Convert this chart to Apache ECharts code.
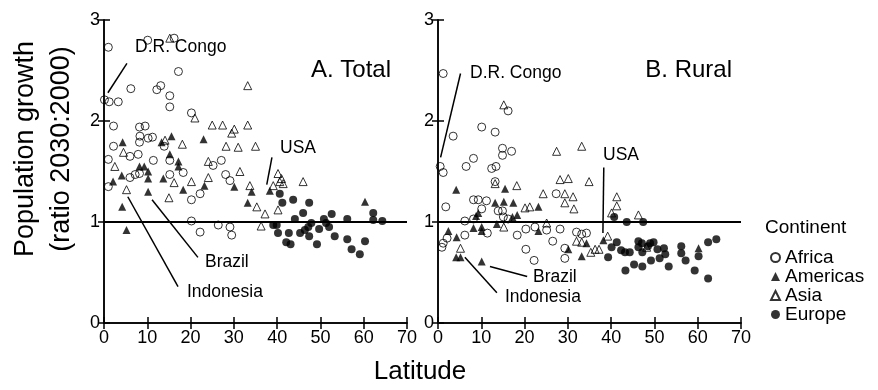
<!DOCTYPE html>
<html>
<head>
<meta charset="utf-8">
<script src="https://cdn.jsdelivr.net/npm/echarts@6/dist/echarts.min.js"></script>
<style>
  html, body { margin: 0; padding: 0; background: #fff; }
  #chart { width: 878px; height: 390px; }
</style>
</head>
<body>
<div id="chart"></div>
<script>
// [latitude, ratio 2030:2000]
const totalAfrica = [[1.0,2.73],[10.1,2.80],[16.2,2.82],[17.2,2.49],[0.1,2.21],[1.2,2.19],[3.3,2.19],[6.2,2.32],[12.2,2.31],[13.1,2.35],[15.2,2.25],[15.2,2.14],[20.2,2.08],[2.2,1.95],[8.2,1.94],[9.5,1.95],[8.3,1.85],[10.2,1.83],[11.2,1.84],[8.2,1.79],[13.9,1.75],[2.2,1.75],[6.0,1.65],[7.9,1.67],[11.4,1.61],[15.2,1.61],[27.1,1.61],[1.0,1.62],[25.2,1.56],[1.0,1.35],[6.0,1.44],[7.2,1.47],[8.2,1.48],[15.2,1.47],[18.3,1.49],[20.2,1.22],[22.2,1.28],[20.2,1.01],[22.2,0.90],[26.4,0.97],[29.1,0.95],[29.5,0.87],[28.1,1.47],[29.1,1.41]]
const totalAmericas = [[15.6,1.85],[4.3,1.79],[13.3,1.79],[23.0,1.82],[15.2,1.67],[17.2,1.60],[8.2,1.55],[9.3,1.55],[17.2,1.55],[2.1,1.40],[4.1,1.46],[10.2,1.50],[10.2,1.43],[10.2,1.30],[4.2,1.15],[5.2,0.92],[13.7,1.43],[18.3,1.32],[23.2,1.36],[30.1,1.35],[34.1,1.30],[33.2,1.19],[38.3,1.31],[60.3,1.20]]
const totalAsia = [[15.2,2.82],[21.0,2.03],[33.2,2.35],[25.0,1.96],[27.4,1.96],[30.1,1.92],[29.5,1.88],[33.2,1.96],[14.1,1.81],[18.1,1.77],[28.2,1.75],[31.0,1.74],[35.0,1.75],[4.5,1.69],[24.1,1.60],[2.5,1.55],[5.2,1.32],[16.2,1.39],[15.0,1.24],[20.2,1.40],[24.1,1.44],[31.4,1.50],[33.7,1.36],[40.2,1.48],[41.0,1.43],[41.4,1.38],[40.6,1.40],[46.0,1.40],[39.1,1.36],[35.3,1.15],[37.2,1.08],[40.2,1.12],[36.3,0.96]]
const totalEurope = [[40.6,1.28],[41.2,1.19],[43.7,1.22],[47.4,1.19],[46.0,1.09],[44.1,1.03],[39.1,0.97],[39.9,0.97],[52.6,1.08],[50.8,1.03],[47.9,0.99],[47.2,0.95],[46.4,0.92],[45.3,0.89],[51.3,0.99],[52.0,0.95],[49.7,0.93],[56.2,1.03],[40.2,0.89],[42.7,0.89],[47.4,0.86],[42.1,0.80],[43.1,0.78],[53.3,0.86],[56.2,0.83],[49.2,0.78],[60.3,0.81],[57.2,0.73],[59.1,0.68],[62.2,1.09],[62.2,1.02],[64.3,1.01]]

const ruralAfrica = [[1.2,2.47],[16.2,2.10],[10.1,1.94],[13.2,1.89],[3.5,1.85],[14.9,1.73],[14.9,1.66],[17.0,1.70],[8.2,1.63],[0.5,1.55],[6.5,1.55],[12.4,1.53],[13.4,1.55],[1.2,1.49],[13.2,1.40],[8.2,1.22],[9.3,1.22],[11.2,1.21],[1.8,1.15],[10.1,1.13],[13.9,1.11],[14.9,1.11],[27.3,1.28],[15.1,1.05],[16.2,1.03],[6.2,1.01],[8.2,1.03],[11.4,0.89],[2.1,0.84],[1.2,0.79],[0.9,0.75],[6.2,0.87],[18.3,0.87],[20.3,0.93],[22.4,0.95],[25.1,0.92],[28.2,0.93],[26.5,0.81],[20.3,0.73],[22.2,0.62],[29.3,0.74],[29.3,0.64],[32.0,0.90],[33.2,0.88],[34.3,0.89]]
const ruralAmericas = [[4.2,1.32],[15.5,1.33],[13.2,1.19],[15.2,1.20],[17.4,1.19],[9.3,1.09],[8.8,1.06],[23.2,1.15],[17.2,1.05],[18.3,1.07],[13.6,0.98],[8.2,0.94],[10.1,0.95],[10.1,0.91],[2.4,0.91],[4.3,0.85],[4.2,0.65],[5.2,0.65],[10.1,0.61],[23.2,0.91],[30.1,0.73],[34.3,0.79],[33.2,0.66],[38.2,0.82],[60.2,0.74]]
const ruralAsia = [[15.2,2.16],[27.4,1.70],[33.2,1.75],[13.2,1.38],[18.2,1.36],[20.1,1.14],[21.2,1.15],[24.3,1.28],[28.2,1.42],[30.1,1.43],[29.3,1.28],[31.2,1.25],[29.3,1.19],[31.4,1.13],[34.9,1.40],[15.2,0.95],[5.2,0.74],[25.1,0.99],[32.0,0.81],[33.2,0.80],[41.3,1.25],[41.3,1.16],[40.1,1.09],[46.3,1.07],[35.3,0.70],[36.3,0.73],[37.2,0.73],[39.2,0.86],[48.2,0.75]]
const ruralEurope = [[40.7,1.05],[43.6,1.00],[47.4,1.00],[40.1,0.75],[41.3,0.80],[42.3,0.72],[43.2,0.70],[44.3,0.70],[39.3,0.65],[46.3,0.81],[46.3,0.75],[47.1,0.79],[48.5,0.76],[49.8,0.80],[49.0,0.79],[47.2,0.70],[50.7,0.73],[52.2,0.74],[52.5,0.68],[51.2,0.64],[45.3,0.58],[47.2,0.56],[49.2,0.62],[43.3,0.52],[53.3,0.56],[56.2,0.76],[56.2,0.69],[57.2,0.62],[59.3,0.52],[60.2,0.66],[62.4,0.80],[64.3,0.83],[62.4,0.44]]

const continents = ['Africa', 'Americas', 'Asia', 'Europe']
const panelTitles = ['A. Total', 'B. Rural']

// leader lines for the country labels, [from, to] in data units
const totalLeaders = [[[0.9,2.28],[5.3,2.57]], [[38.8,1.64],[37.6,1.37]], [[11.1,1.22],[21.7,0.65]], [[5.5,1.25],[17.1,0.36]]]
const ruralLeaders = [[[5.2,2.47],[0.6,1.64]], [[38.3,1.54],[38.1,0.89]], [[12.0,0.56],[20.6,0.46]], [[6.2,0.65],[13.6,0.30]]]

const FONT = '"Liberation Sans", Arial, sans-serif'
const chart = echarts.init(document.getElementById('chart'))

const gridLeft = [104, 438]
const marker = {
  Africa: { symbol: 'circle', itemStyle: { color: 'rgba(255,255,255,0)', borderColor: '#000', borderWidth: 1 } },
  Americas: { symbol: 'triangle', itemStyle: { color: '#000', borderColor: '#000', borderWidth: 0 } },
  Asia: { symbol: 'triangle', itemStyle: { color: 'rgba(255,255,255,0)', borderColor: '#000', borderWidth: 1 } },
  Europe: { symbol: 'circle', itemStyle: { color: '#000', borderColor: '#000', borderWidth: 0 } },
}

const grids = gridLeft.map(l => ({ left: l, top: 20, width: 303, height: 303 }))
const xAxes = []
const yAxes = []
gridLeft.forEach((l, i) => {
  const line = { lineStyle: { color: '#000', width: 1.5 } }
  const tick = { inside: true, length: 6, lineStyle: { color: '#000', width: 1.5 } }
  xAxes.push({
    gridIndex: i, type: 'value', min: 0, max: 70, interval: 10, position: 'bottom',
    axisLine: line, axisTick: tick, splitLine: { show: false },
    axisLabel: { color: '#000', fontSize: 18, fontFamily: FONT, margin: 6 },
  })
  xAxes.push({
    gridIndex: i, type: 'value', min: 0, max: 70, interval: 10, position: 'top',
    axisLine: line, axisTick: tick, splitLine: { show: false }, axisLabel: { show: false },
  })
  yAxes.push({
    gridIndex: i, type: 'value', min: 0, max: 3, interval: 1, position: 'left',
    axisLine: line, axisTick: tick, splitLine: { show: false },
    axisLabel: { color: '#000', fontSize: 18, fontFamily: FONT, margin: 4 },
  })
  yAxes.push({
    gridIndex: i, type: 'value', min: 0, max: 3, interval: 1, position: 'right',
    axisLine: line, axisTick: tick, splitLine: { show: false }, axisLabel: { show: false },
  })
})

const panelData = [
  [totalAfrica, totalAmericas, totalAsia, totalEurope],
  [ruralAfrica, ruralAmericas, ruralAsia, ruralEurope],
]
const leaders = [totalLeaders, ruralLeaders]

const series = []
panelData.forEach((sets, i) => {
  sets.forEach((d, k) => {
    const name = continents[k]
    const s = {
      name,
      type: 'scatter',
      xAxisIndex: i * 2,
      yAxisIndex: i * 2,
      data: d,
      symbol: marker[name].symbol,
      symbolSize: 8,
      itemStyle: marker[name].itemStyle,
      silent: true,
    }
    if (k === 0) {
      s.markLine = {
        silent: true, symbol: 'none', animation: false,
        label: { show: false },
        lineStyle: { color: '#000', width: 1.5, type: 'solid' },
        data: leaders[i].map(p => [{ coord: p[0] }, { coord: p[1] }]),
      }
    }
    if (k === 3) {
      s.markLine = {
        silent: true, symbol: 'none', animation: false,
        label: { show: false },
        lineStyle: { color: '#000', width: 2, type: 'solid' },
        data: [{ yAxis: 1 }],
      }
    }
    series.push(s)
  })
})

const txt = (x, y, text, size, extra) => ({
  type: 'text', x, y,
  style: Object.assign({ text, fill: '#000', font: size + 'px ' + FONT, textVerticalAlign: 'middle' }, extra || {}),
})

chart.setOption({
  animation: false,
  grid: grids,
  xAxis: xAxes,
  yAxis: yAxes,
  series,
  legend: {
    data: continents,
    orient: 'vertical',
    left: 765, top: 243,
    itemWidth: 9, itemHeight: 9, itemGap: 0,
    selectedMode: false,
    textStyle: { color: '#000', fontSize: 19, fontFamily: FONT, lineHeight: 18.7 },
  },
  graphic: [
    txt(391, 70, panelTitles[0], 24, { textAlign: 'right' }),
    txt(732, 70, panelTitles[1], 24, { textAlign: 'right' }),
    txt(135, 47, 'D.R. Congo', 17.5),
    txt(280, 148, 'USA', 17.5),
    txt(205, 262, 'Brazil', 17.5),
    txt(187, 292, 'Indonesia', 17.5),
    txt(470, 73, 'D.R. Congo', 17.5),
    txt(603, 155, 'USA', 17.5),
    txt(533, 277, 'Brazil', 17.5),
    txt(505, 297, 'Indonesia', 17.5),
    txt(765, 228, 'Continent', 19),
    txt(420, 372, 'Latitude', 26, { textAlign: 'center' }),
    { type: 'text', x: 26, y: 149, rotation: Math.PI / 2,
      style: { text: 'Population growth', fill: '#000', font: '27px ' + FONT, textAlign: 'center', textVerticalAlign: 'middle' } },
    { type: 'text', x: 62, y: 149, rotation: Math.PI / 2,
      style: { text: '(ratio 2030:2000)', fill: '#000', font: '27px ' + FONT, textAlign: 'center', textVerticalAlign: 'middle' } },
  ],
})
</script>
</body>
</html>
